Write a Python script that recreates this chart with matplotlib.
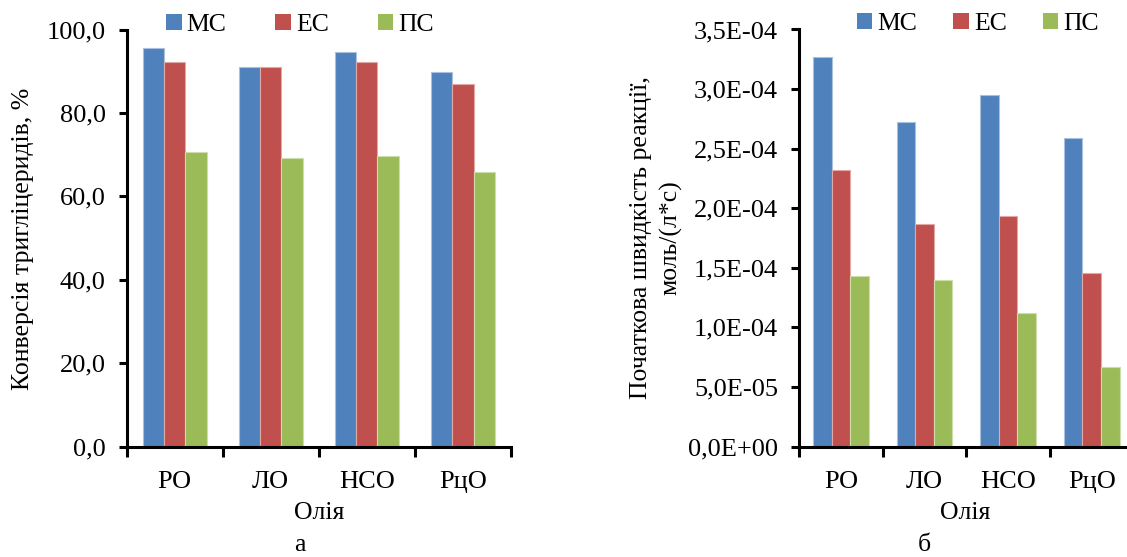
import numpy as np
import matplotlib
matplotlib.use('Agg')
import matplotlib.pyplot as plt
from matplotlib.ticker import FuncFormatter, FixedLocator
from matplotlib.patches import Patch

plt.rcParams['font.family'] = ['Liberation Serif', 'DejaVu Serif']

oils = ['РО', 'ЛО', 'НСО', 'РцО']
series = ['МС', 'ЕС', 'ПС']
colors = ['#4F81BD', '#C0504D', '#9BBB59']
edges = ['#A9C1DF', '#E0A8A6', '#CDDDAC']

# конверсія тригліцеридів, %
conv_MC = [95.6, 90.9, 94.7, 89.8]
conv_EC = [92.2, 90.9, 92.2, 87.0]
conv_PC = [70.6, 69.2, 69.7, 65.9]

# початкова швидкість реакції, моль/(л*с)
rate_MC = [3.27e-4, 2.725e-4, 2.947e-4, 2.592e-4]
rate_EC = [2.32e-4, 1.865e-4, 1.935e-4, 1.46e-4]
rate_PC = [1.427e-4, 1.394e-4, 1.124e-4, 0.667e-4]

W, H = 1127, 557
fig = plt.figure(figsize=(W/100, H/100), dpi=100)

def px_ax(x0, x1, ytop, ybot):
  return fig.add_axes([x0/W, 1-ybot/H, (x1-x0)/W, (ybot-ytop)/H])

ax1 = px_ax(126.5, 511, 29.5, 446.5)
ax2 = px_ax(799, 1133.5, 29.5, 446.5)

bw = 0.2222
x = np.arange(len(oils))

def draw(ax, data, ymax, step, fmt):
  for j, vals in enumerate(data):
    ax.bar(x + (j-1)*bw, vals, bw, color=colors[j], edgecolor=edges[j], linewidth=0.8)
  ax.set_xlim(-0.5, len(oils)-0.5)
  ax.set_ylim(0, ymax)
  ax.set_yticks(np.arange(0, ymax + step/2, step))
  ax.yaxis.set_major_formatter(FuncFormatter(fmt))
  ax.set_xticks(x)
  ax.set_xticklabels(oils)
  ax.xaxis.set_minor_locator(FixedLocator(np.arange(-0.5, len(oils), 1.0)))
  ax.tick_params(axis='x', which='major', length=0, pad=17.5, labelsize=19)
  ax.tick_params(axis='x', which='minor', length=7, width=2.2, direction='out')
  ax.tick_params(axis='y', length=6, width=2.2, direction='out', pad=9, labelsize=19)
  for s in ['top', 'right']:
    ax.spines[s].set_visible(False)
  for s in ['left', 'bottom']:
    ax.spines[s].set_linewidth(2.2)

draw(ax1, [conv_MC, conv_EC, conv_PC], 100, 20,
     lambda v, p: f"{v:.1f}".replace('.', ','))
draw(ax2, [rate_MC, rate_EC, rate_PC], 3.5e-4, 0.5e-4,
     lambda v, p: f"{v:.1E}".replace('.', ','))

fs = 18.5
fig.text(23/W, 1-239/H, 'Конверсія тригліцеридів, %', rotation=90,
         ha='center', va='center', fontsize=fs)
fig.text(656/W, 1-238/H, 'Початкова швидкість реакції,\nмоль/(л*с)', rotation=90,
         ha='center', va='center', fontsize=fs, multialignment='center', linespacing=1.4)
fig.text(319/W, 1-519/H, 'Олія', ha='center', va='baseline', fontsize=fs)
fig.text(965/W, 1-519/H, 'Олія', ha='center', va='baseline', fontsize=fs)
fig.text(300/W, 1-551/H, 'а', ha='center', va='baseline', fontsize=fs)
fig.text(924/W, 1-551/H, 'б', ha='center', va='baseline', fontsize=fs)

handles = [Patch(facecolor=c, edgecolor='none') for c in colors]
fig.legend(handles, series, loc='center', bbox_to_anchor=(300/W, 1-25/H), ncol=3,
           frameon=False, fontsize=fs, handlelength=0.6, handleheight=0.6,
           handletextpad=0.2, columnspacing=1.9, borderpad=0, borderaxespad=0)
fig.legend(handles, series, loc='center', bbox_to_anchor=(978/W, 1-24/H), ncol=3,
           frameon=False, fontsize=fs, handlelength=0.6, handleheight=0.6,
           handletextpad=0.2, columnspacing=1.4, borderpad=0, borderaxespad=0)

fig.savefig('out.png', dpi=100)
